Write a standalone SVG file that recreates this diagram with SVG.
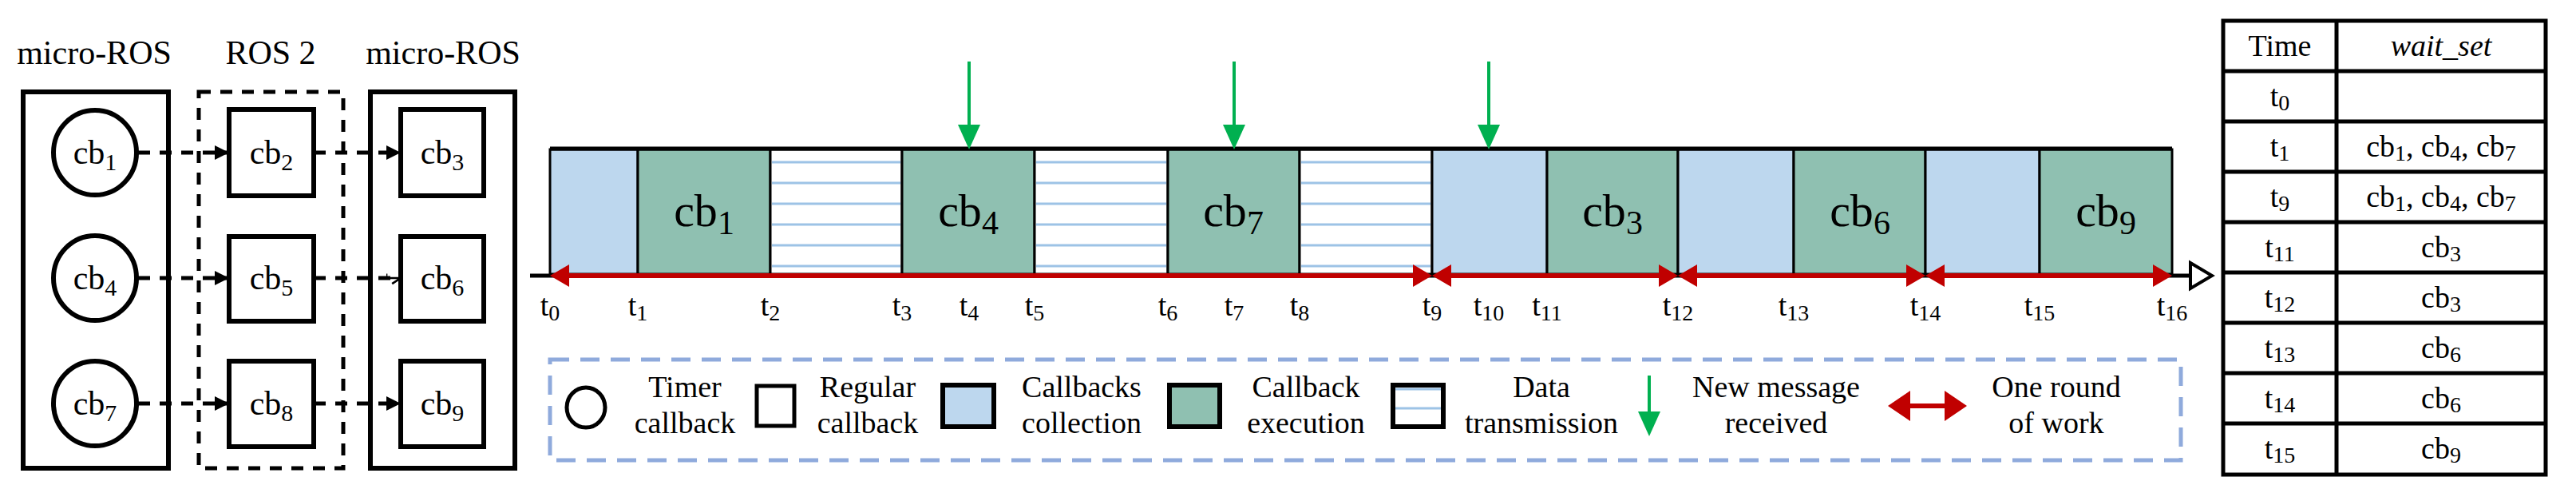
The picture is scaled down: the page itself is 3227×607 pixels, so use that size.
<svg xmlns="http://www.w3.org/2000/svg" width="3227" height="607" viewBox="0 0 3227 607" font-family="'Liberation Serif', 'DejaVu Serif', serif">
<style>
text{font-family:'Liberation Serif','DejaVu Serif',serif;fill:#000}
.ttl{font-size:42px;text-anchor:middle}
.cb{font-size:42px;text-anchor:middle}
.big{font-size:58px;text-anchor:middle}
.tl{font-size:38px;text-anchor:middle}
.tb{font-size:38px;text-anchor:middle}
.lg{font-size:38px;text-anchor:middle}
.node{fill:#fff;stroke:#000;stroke-width:6}
.cont{fill:none;stroke:#000;stroke-width:6}
.dash{fill:none;stroke:#000;stroke-width:5;stroke-dasharray:15 12}
.col{fill:#BDD7EE;stroke:#000;stroke-width:3}
.exe{fill:#8FC0B1;stroke:#000;stroke-width:3}
.dat{fill:#fff;stroke:#000;stroke-width:3}
.hl{stroke:#9DC3E6;stroke-width:3}
.red{stroke:#C00000;stroke-width:6;fill:none}
.rh{fill:#C00000}
.grn{stroke:#00B050;stroke-width:4}
.gh{fill:#00B050}
.tbl{fill:none;stroke:#000;stroke-width:5}
</style>
<defs>
<marker id="fa" viewBox="0 0 10 10" refX="10" refY="5" markerWidth="18" markerHeight="18" markerUnits="userSpaceOnUse" orient="auto"><path d="M0,0 L10,5 L0,10 z" fill="#000"/></marker>
<marker id="oa" viewBox="0 0 10 10" refX="10" refY="5" markerWidth="18" markerHeight="18" markerUnits="userSpaceOnUse" orient="auto"><path d="M0,2 L0,5 L10,5 M10,5 L4,9" fill="none" stroke="#000" stroke-width="1.5"/></marker>
</defs>

<text class="ttl" x="118" y="80">micro-ROS</text>
<text class="ttl" x="339" y="80">ROS 2</text>
<text class="ttl" x="555" y="80">micro-ROS</text>

<rect class="cont" x="29" y="115" width="182" height="471"/>
<rect class="dash" x="249" y="115" width="181" height="471"/>
<rect class="cont" x="464" y="115" width="181" height="471"/>

<g id="connectors">
<line class="dash" x1="173" y1="191" x2="287" y2="191" marker-end="url(#fa)"/>
<line class="dash" x1="393" y1="191" x2="502" y2="191" marker-end="url(#fa)"/>
<line class="dash" x1="173" y1="348" x2="287" y2="348" marker-end="url(#fa)"/>
<line class="dash" x1="393" y1="348" x2="502" y2="348" marker-end="url(#oa)"/>
<line class="dash" x1="173" y1="505" x2="287" y2="505" marker-end="url(#fa)"/>
<line class="dash" x1="393" y1="505" x2="502" y2="505" marker-end="url(#fa)"/>
</g>

<g id="cb1"><ellipse class="node" cx="119" cy="191" rx="52" ry="53"/><text class="cb" x="119" y="205">cb<tspan font-size="30" dy="8">1</tspan></text></g>
<g id="cb4"><ellipse class="node" cx="119" cy="348" rx="52" ry="53"/><text class="cb" x="119" y="362">cb<tspan font-size="30" dy="8">4</tspan></text></g>
<g id="cb7"><ellipse class="node" cx="119" cy="505" rx="52" ry="53"/><text class="cb" x="119" y="519">cb<tspan font-size="30" dy="8">7</tspan></text></g>
<g id="cb2"><rect class="node" x="287" y="137" width="106" height="108"/><text class="cb" x="340" y="205">cb<tspan font-size="30" dy="8">2</tspan></text></g>
<g id="cb5"><rect class="node" x="287" y="296" width="106" height="106"/><text class="cb" x="340" y="362">cb<tspan font-size="30" dy="8">5</tspan></text></g>
<g id="cb8"><rect class="node" x="287" y="452" width="106" height="107"/><text class="cb" x="340" y="519">cb<tspan font-size="30" dy="8">8</tspan></text></g>
<g id="cb3"><rect class="node" x="502" y="137" width="104" height="108"/><text class="cb" x="554" y="205">cb<tspan font-size="30" dy="8">3</tspan></text></g>
<g id="cb6"><rect class="node" x="502" y="296" width="104" height="106"/><text class="cb" x="554" y="362">cb<tspan font-size="30" dy="8">6</tspan></text></g>
<g id="cb9"><rect class="node" x="502" y="452" width="104" height="107"/><text class="cb" x="554" y="519">cb<tspan font-size="30" dy="8">9</tspan></text></g>

<g id="timeline">
<rect class="col" x="689" y="187" width="110" height="156"/>
<rect class="exe" x="799" y="187" width="166" height="156"/>
<rect class="dat" x="965" y="187" width="165" height="156"/>
<rect class="exe" x="1130" y="187" width="166" height="156"/>
<rect class="dat" x="1296" y="187" width="167" height="156"/>
<rect class="exe" x="1463" y="187" width="165" height="156"/>
<rect class="dat" x="1628" y="187" width="166" height="156"/>
<rect class="col" x="1794" y="187" width="144" height="156"/>
<rect class="exe" x="1938" y="187" width="164" height="156"/>
<rect class="col" x="2102" y="187" width="145" height="156"/>
<rect class="exe" x="2247" y="187" width="165" height="156"/>
<rect class="col" x="2412" y="187" width="143" height="156"/>
<rect class="exe" x="2555" y="187" width="166" height="156"/>
<g class="hl">
<path d="M967,203H1128M967,229H1128M967,255H1128M967,281H1128M967,307H1128M967,333H1128"/>
<path d="M1298,203H1461M1298,229H1461M1298,255H1461M1298,281H1461M1298,307H1461M1298,333H1461"/>
<path d="M1630,203H1792M1630,229H1792M1630,255H1792M1630,281H1792M1630,307H1792M1630,333H1792"/>
</g>
<line x1="689" y1="186" x2="2721" y2="186" stroke="#000" stroke-width="5"/>
<text class="big" x="882" y="283">cb<tspan font-size="42" dy="10">1</tspan></text>
<text class="big" x="1213" y="283">cb<tspan font-size="42" dy="10">4</tspan></text>
<text class="big" x="1545" y="283">cb<tspan font-size="42" dy="10">7</tspan></text>
<text class="big" x="2020" y="283">cb<tspan font-size="42" dy="10">3</tspan></text>
<text class="big" x="2330" y="283">cb<tspan font-size="42" dy="10">6</tspan></text>
<text class="big" x="2638" y="283">cb<tspan font-size="42" dy="10">9</tspan></text>

<line x1="664" y1="345" x2="2745" y2="345" stroke="#000" stroke-width="5"/>
<polygon points="2744,329 2771,345 2744,361" fill="#fff" stroke="#000" stroke-width="4"/>

<g class="red">
<line x1="700" y1="345" x2="1783" y2="345"/>
<line x1="1805" y1="345" x2="2091" y2="345"/>
<line x1="2113" y1="345" x2="2401" y2="345"/>
<line x1="2423" y1="345" x2="2710" y2="345"/>
</g>
<g class="rh">
<polygon points="689,345 713,331 713,359"/>
<polygon points="1794,345 1770,331 1770,359"/>
<polygon points="1794,345 1818,331 1818,359"/>
<polygon points="2102,345 2078,331 2078,359"/>
<polygon points="2102,345 2126,331 2126,359"/>
<polygon points="2412,345 2388,331 2388,359"/>
<polygon points="2412,345 2436,331 2436,359"/>
<polygon points="2721,345 2697,331 2697,359"/>
</g>

<g class="grn">
<line x1="1214" y1="77" x2="1214" y2="160"/>
<line x1="1546" y1="77" x2="1546" y2="160"/>
<line x1="1865" y1="77" x2="1865" y2="160"/>
</g>
<g class="gh">
<polygon points="1200,156 1228,156 1214,187"/>
<polygon points="1532,156 1560,156 1546,187"/>
<polygon points="1851,156 1879,156 1865,187"/>
</g>

<g class="tl">
<text x="689" y="395">t<tspan font-size="28" dy="6">0</tspan></text>
<text x="799" y="395">t<tspan font-size="28" dy="6">1</tspan></text>
<text x="965" y="395">t<tspan font-size="28" dy="6">2</tspan></text>
<text x="1130" y="395">t<tspan font-size="28" dy="6">3</tspan></text>
<text x="1214" y="395">t<tspan font-size="28" dy="6">4</tspan></text>
<text x="1296" y="395">t<tspan font-size="28" dy="6">5</tspan></text>
<text x="1463" y="395">t<tspan font-size="28" dy="6">6</tspan></text>
<text x="1546" y="395">t<tspan font-size="28" dy="6">7</tspan></text>
<text x="1628" y="395">t<tspan font-size="28" dy="6">8</tspan></text>
<text x="1794" y="395">t<tspan font-size="28" dy="6">9</tspan></text>
<text x="1865" y="395">t<tspan font-size="28" dy="6">10</tspan></text>
<text x="1938" y="395">t<tspan font-size="28" dy="6">11</tspan></text>
<text x="2102" y="395">t<tspan font-size="28" dy="6">12</tspan></text>
<text x="2247" y="395">t<tspan font-size="28" dy="6">13</tspan></text>
<text x="2412" y="395">t<tspan font-size="28" dy="6">14</tspan></text>
<text x="2555" y="395">t<tspan font-size="28" dy="6">15</tspan></text>
<text x="2721" y="395">t<tspan font-size="28" dy="6">16</tspan></text>
</g>
</g>

<g id="legend">
<rect x="689" y="450" width="2043" height="126" fill="none" stroke="#8FAADC" stroke-width="5" stroke-dasharray="24 14"/>
<ellipse cx="734" cy="510" rx="24" ry="25" fill="#fff" stroke="#000" stroke-width="5"/>
<text class="lg" x="858" y="497">Timer</text><text class="lg" x="858" y="542">callback</text>
<rect x="948" y="483" width="47" height="50" fill="#fff" stroke="#000" stroke-width="5"/>
<text class="lg" x="1087" y="497">Regular</text><text class="lg" x="1087" y="542">callback</text>
<rect x="1181" y="482" width="64" height="52" fill="#BDD7EE" stroke="#000" stroke-width="6"/>
<text class="lg" x="1355" y="497">Callbacks</text><text class="lg" x="1355" y="542">collection</text>
<rect x="1465" y="482" width="63" height="52" fill="#8FC0B1" stroke="#000" stroke-width="6"/>
<text class="lg" x="1636" y="497">Callback</text><text class="lg" x="1636" y="542">execution</text>
<rect x="1745" y="482" width="63" height="52" fill="#fff" stroke="#000" stroke-width="6"/>
<path d="M1748,487H1805M1748,511H1805" class="hl"/>
<text class="lg" x="1931" y="497">Data</text><text class="lg" x="1931" y="542">transmission</text>
<line x1="2066" y1="470" x2="2066" y2="520" class="grn"/>
<polygon points="2052,515 2080,515 2066,546" class="gh"/>
<text class="lg" x="2225" y="497">New message</text><text class="lg" x="2225" y="542">received</text>
<line x1="2380" y1="508" x2="2450" y2="508" class="red"/>
<polygon points="2365,508 2393,489 2393,527" class="rh"/>
<polygon points="2464,508 2436,489 2436,527" class="rh"/>
<text class="lg" x="2576" y="497">One round</text><text class="lg" x="2576" y="542">of work</text>
</g>

<g id="table">
<rect class="tbl" x="2785" y="26" width="404" height="568"/>
<line class="tbl" x1="2927" y1="26" x2="2927" y2="594"/>
<path class="tbl" d="M2785,89H3189M2785,152H3189M2785,215H3189M2785,278H3189M2785,341H3189M2785,404H3189M2785,467H3189M2785,530H3189"/>
<g class="tb">
<text x="2856" y="70">Time</text>
<text x="3058" y="70" font-style="italic">wait_set</text>
<text x="2856" y="133">t<tspan font-size="28" dy="5">0</tspan></text>
<text x="2856" y="196">t<tspan font-size="28" dy="5">1</tspan></text>
<text x="2856" y="259">t<tspan font-size="28" dy="5">9</tspan></text>
<text x="2856" y="322">t<tspan font-size="28" dy="5">11</tspan></text>
<text x="2856" y="385">t<tspan font-size="28" dy="5">12</tspan></text>
<text x="2856" y="448">t<tspan font-size="28" dy="5">13</tspan></text>
<text x="2856" y="511">t<tspan font-size="28" dy="5">14</tspan></text>
<text x="2856" y="574">t<tspan font-size="28" dy="5">15</tspan></text>
<text x="3058" y="196">cb<tspan font-size="28" dy="5">1</tspan><tspan dy="-5">, cb</tspan><tspan font-size="28" dy="5">4</tspan><tspan dy="-5">, cb</tspan><tspan font-size="28" dy="5">7</tspan></text>
<text x="3058" y="259">cb<tspan font-size="28" dy="5">1</tspan><tspan dy="-5">, cb</tspan><tspan font-size="28" dy="5">4</tspan><tspan dy="-5">, cb</tspan><tspan font-size="28" dy="5">7</tspan></text>
<text x="3058" y="322">cb<tspan font-size="28" dy="5">3</tspan></text>
<text x="3058" y="385">cb<tspan font-size="28" dy="5">3</tspan></text>
<text x="3058" y="448">cb<tspan font-size="28" dy="5">6</tspan></text>
<text x="3058" y="511">cb<tspan font-size="28" dy="5">6</tspan></text>
<text x="3058" y="574">cb<tspan font-size="28" dy="5">9</tspan></text>
</g>
</g>
</svg>
